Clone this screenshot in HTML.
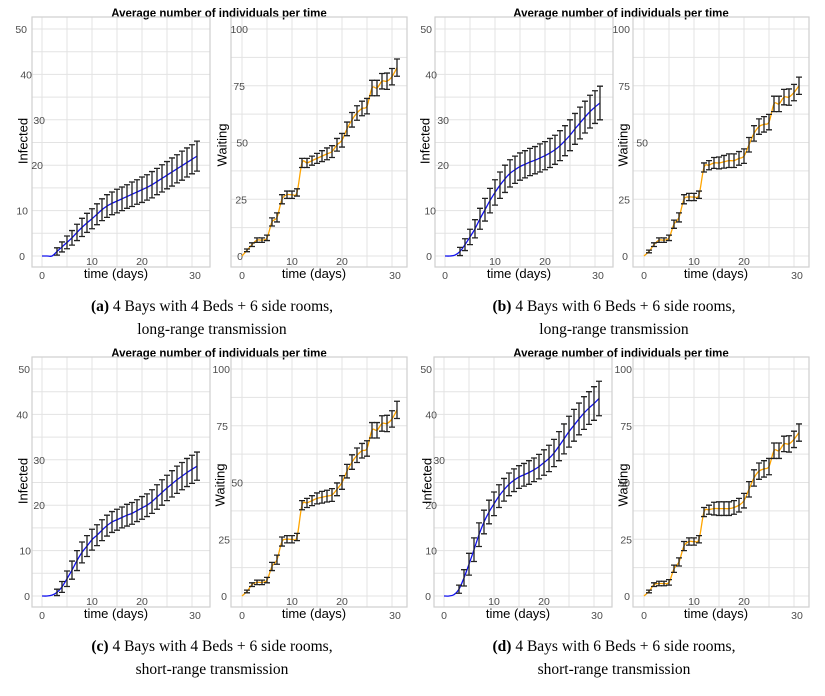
<!DOCTYPE html>
<html><head><meta charset="utf-8">
<style>
html,body{margin:0;padding:0;background:#fff;}
svg{display:block;}
.tick{font-family:"Liberation Sans",sans-serif;font-size:10.5px;fill:#4d4d4d;}
.axt{font-family:"Liberation Sans",sans-serif;font-size:13px;fill:#000;}
.ttl{font-family:"Liberation Sans",sans-serif;font-size:11.5px;font-weight:bold;fill:#000;}
.cap{font-family:"Liberation Serif",serif;font-size:15.5px;fill:#000;}
</style></head>
<body>
<svg id="fig" width="825" height="696" viewBox="0 0 825 696" xmlns="http://www.w3.org/2000/svg"></svg>
<script>
const days = [0,1,2,3,4,5,6,7,8,9,10,11,12,13,14,15,16,17,18,19,20,21,22,23,24,25,26,27,28,29,30,31];
const infTicks = [0,10,20,30,40,50];
const waitTicks = [0,25,50,75,100];
const xTicks = [0,10,20,30];

const infA = [0,0,0,1,2,3,4,5.2,6.3,7.3,8.2,9.2,10.2,11,11.6,12.1,12.6,13.1,13.6,14.1,14.6,15.1,15.7,16.4,17.1,17.8,18.5,19.2,19.9,20.6,21.3,22];
const infAErr = [0,0,0,0.8,1.1,1.4,1.6,1.8,2.0,2.1,2.2,2.3,2.4,2.5,2.5,2.6,2.6,2.6,2.7,2.7,2.8,2.8,2.9,2.9,3.0,3.0,3.1,3.1,3.2,3.2,3.2,3.3];
const waitA = [0,2.5,5,7,7,8,15,17,25,27,27,28,41,41,42,43,44,45,46,49,51,56,60,63,65,66,74,74,77,77,79,83];
const waitAErr = [0,0.6,0.8,1,1,1.2,1.8,2,2,1.6,1.6,1.6,2,2,2,2.2,2.4,2.6,2.6,2.8,3,3,3.2,3.2,3.2,3.4,3.4,3.4,3.4,3.6,3.6,3.8];

const infB = [0,0,0.2,1,2.5,4.2,6,8.2,10.2,12.2,14,15.6,17,18.2,19,19.7,20.2,20.7,21.1,21.6,22.1,22.7,23.4,24.3,25.4,26.6,28,29.3,30.6,31.8,32.8,33.7];
const infBErr = [0,0,0,0.9,1.3,1.7,2.0,2.3,2.5,2.7,2.8,2.9,3.0,3.0,3.0,3.0,3.0,3.0,3.0,3.1,3.1,3.2,3.2,3.3,3.3,3.4,3.4,3.5,3.5,3.6,3.6,3.7];
const waitB = [0,2,5,7,7,8,14,17,25,26,26,27,39,40,41,41,41.5,42,42,43,44,49,54,57,58,59,67,67,70,70,72,75];
const waitBErr = [0,0.6,0.8,1,1,1.2,1.8,2,2,1.6,1.6,1.6,2,2,2.4,2.6,2.8,3,3,3,3.2,3.2,3.4,3.4,3.4,3.4,3.4,3.4,3.4,3.6,3.6,3.8];

const infC = [0,0,0.2,0.8,2,3.8,5.7,7.8,9.6,11,12.4,13.4,14.5,15.5,16.3,16.8,17.3,17.8,18.2,18.8,19.4,20,20.8,21.8,22.8,23.8,24.7,25.6,26.4,27.2,27.9,28.6];
const infCErr = [0,0,0,0.7,1.2,1.7,2.0,2.2,2.3,2.3,2.3,2.3,2.3,2.3,2.3,2.3,2.3,2.4,2.4,2.4,2.5,2.5,2.6,2.7,2.8,2.8,2.9,3.0,3.0,3.1,3.1,3.1];
const waitC = [0,2,5,6,6,7,13,16,24,25,25,26,40,41,42,43,43.5,44,44.5,47,50,55,59,62,64,65,73,73,76,76,78,82];
const waitCErr = [0,0.6,0.8,1,1,1.2,1.8,2,2,1.6,1.6,1.6,2,2,2.2,2.4,2.6,2.6,2.8,2.8,3,3,3.2,3.2,3.2,3.4,3.4,3.4,3.4,3.6,3.6,3.8];

const infD = [0,0,0.3,1.5,4,7,10.2,13.5,16.3,18.5,20.3,22,23.4,24.6,25.5,26.2,26.7,27.2,27.8,28.5,29.4,30.3,31.5,33,34.6,36.2,37.6,39,40.3,41.4,42.4,43.5];
const infDErr = [0,0,0,0.9,1.8,2.4,2.6,2.6,2.6,2.6,2.6,2.5,2.5,2.5,2.5,2.5,2.5,2.6,2.6,2.7,2.8,2.9,3.0,3.2,3.3,3.4,3.5,3.5,3.6,3.6,3.7,3.8];
const waitD = [0,2,5,5.5,5.5,6,12,15,22,24,24,25,37,38,38.5,38.5,38.5,38.5,39,40,42,47,52,55,56,57,64,64,67,67,69,72];
const waitDErr = [0,0.6,0.8,1,1,1.2,1.6,1.8,2,1.6,1.6,1.6,2,2,2.8,3,3,3,3,3,3.2,3.4,3.6,3.6,3.6,3.6,3.4,3.4,3.4,3.6,3.6,3.8];

const captions = [
  ["(a)", "4 Bays with 4 Beds + 6 side rooms,", "long-range transmission"],
  ["(b)", "4 Bays with 6 Beds + 6 side rooms,", "long-range transmission"],
  ["(c)", "4 Bays with 4 Beds + 6 side rooms,", "short-range transmission"],
  ["(d)", "4 Bays with 6 Beds + 6 side rooms,", "short-range transmission"]
];

const NS = "http://www.w3.org/2000/svg";
const svg = document.getElementById('fig');
function mk(tag, attrs, parent, text){
  const e = document.createElementNS(NS, tag);
  for (const k in attrs) e.setAttribute(k, attrs[k]);
  if (text !== undefined) e.textContent = text;
  parent.appendChild(e);
  return e;
}
function smoothPath(pts){
  let d = "M" + pts[0][0].toFixed(2) + "," + pts[0][1].toFixed(2);
  for (let i = 0; i < pts.length - 1; i++){
    const p0 = pts[Math.max(0,i-1)], p1 = pts[i], p2 = pts[i+1], p3 = pts[Math.min(pts.length-1,i+2)];
    const c1x = p1[0] + (p2[0]-p0[0])/6, c1y = p1[1] + (p2[1]-p0[1])/6;
    const c2x = p2[0] - (p3[0]-p1[0])/6, c2y = p2[1] - (p3[1]-p1[1])/6;
    d += "C" + c1x.toFixed(2)+","+c1y.toFixed(2)+" "+c2x.toFixed(2)+","+c2y.toFixed(2)+" "+p2[0].toFixed(2)+","+p2[1].toFixed(2);
  }
  return d;
}

function panel(g, box, x0, yMax, yTicks, minorStep, vals, errs, color, ytitle, ytitleX, ytitleY, labelOff, name){
  const pg = mk('g', {}, g);
  
  
  const y0 = box.y0, yTop = box.yTop;
  const xs = d => x0 + d * 5;
  const ys = v => y0 - (v / yMax) * (y0 - yTop);
  for (let v = 0; v <= yMax + 1e-9; v += minorStep){
    const l = mk('line', {x1: box.l, x2: box.r, y1: ys(v), y2: ys(v), stroke: '#e3e3e3', 'stroke-width': 1}, pg);
    
    
  }
  for (let d = 0; d <= 30; d += 5){
    const l = mk('line', {x1: xs(d), x2: xs(d), y1: box.t, y2: box.b, stroke: '#e3e3e3', 'stroke-width': 1}, pg);
    
    
  }
  const bx = mk('rect', {x: box.l, y: box.t, width: box.r - box.l, height: box.b - box.t, fill: 'none', stroke: '#cfcfcf', 'stroke-width': 1.2}, pg);
  
  
  yTicks.forEach((v, i) => {
    const t = mk('text', {x: box.l + labelOff[i], y: ys(v) + 4, 'text-anchor': 'end', class: 'tick'}, pg, String(v));
    
    
  });
  xTicks.forEach(v => {
    const yy = (v === 10 || v === 20) ? y0 + 9 : y0 + 23;
    const t = mk('text', {x: xs(v) + (v === 30 ? 3 : 0), y: yy, 'text-anchor': 'middle', class: 'tick'}, pg, String(v));
    
    
  });
  const xt = mk('text', {x: (box.l + box.r) / 2 - 5, y: y0 + 22, 'text-anchor': 'middle', class: 'axt'}, pg, 'time (days)');
  
  
  const yt = mk('text', {x: ytitleX, y: ytitleY, 'text-anchor': 'middle', 'dominant-baseline': 'central', class: 'axt', transform: 'rotate(-90 ' + ytitleX + ' ' + ytitleY + ')'}, pg, ytitle);
  
  
  const pts = days.map((d, i) => [xs(d), ys(vals[i])]);
  const ln = mk('path', {d: smoothPath(pts), fill: 'none', stroke: color, 'stroke-width': 1.3}, pg);
  
  
  days.forEach((d, i) => {
    if (!(errs[i] > 0)) return;
    const x = xs(d), yl = ys(vals[i] - errs[i]), yh = ys(vals[i] + errs[i]);
    const eb = mk('path', {d: 'M' + x + ',' + yl + 'V' + yh + 'M' + (x-3) + ',' + yl + 'H' + (x+3) + 'M' + (x-3) + ',' + yh + 'H' + (x+3), stroke: '#222', 'stroke-width': 1.3, fill: 'none'}, pg);
    
    
  });
}

function subfigure(ox, oy, inf, infErr, wait, waitErr, cap, name, cfg){
  const g = mk('g', {}, svg);
  
  
  const t = mk('text', {x: ox + 219, y: oy + 17, 'text-anchor': 'middle', class: 'ttl'}, g, 'Average number of individuals per time');
  
  
  const lo = cfg.lo, ro = cfg.ro;
  const boxL = {l: ox + lo, r: ox + lo + 178, t: oy + 17, b: oy + 267, y0: oy + 256, yTop: oy + 29};
  panel(g, boxL, ox + lo + 10, 50, infTicks, 5, inf, infErr, '#1010ee', 'Infected', ox + cfg.it, oy + 141, cfg.lOff, 'infected-panel');
  const boxR = {l: ox + ro, r: ox + ro + 176, t: oy + 17, b: oy + 267, y0: oy + 256, yTop: oy + 29};
  panel(g, boxR, ox + ro + 11, 100, waitTicks, 12.5, wait, waitErr, '#ffa500', 'Waiting', ox + cfg.wt, oy + 145, cfg.rOff, 'waiting-panel');
  const c1 = mk('text', {x: ox + 212, y: oy + 311, 'text-anchor': 'middle', class: 'cap'}, g);
  
  
  mk('tspan', {'font-weight': 'bold'}, c1, cap[0] + ' ');
  mk('tspan', {}, c1, cap[1]);
  const c2 = mk('text', {x: ox + 212, y: oy + 334, 'text-anchor': 'middle', class: 'cap'}, g, cap[2]);
  
  
}

subfigure(0, 0, infA, infAErr, waitA, waitAErr, captions[0], 'subfigure-a',
  {lo: 32, ro: 231, it: 23, wt: 222, lOff: [-7,-4,11,13,0,-5], rOff: [12,16,17,14,17]});
subfigure(402, 0, infB, infBErr, waitB, waitBErr, captions[1], 'subfigure-b',
  {lo: 33, ro: 231, it: 23, wt: 221, lOff: [-3,1,14,14,2,-3], rOff: [-5,-3,15,-3,-3]});
subfigure(0, 340, infC, infCErr, waitC, waitCErr, captions[2], 'subfigure-c',
  {lo: 32, ro: 231, it: 23, wt: 220, lOff: [-2,-1,13,13,-4,-2], rOff: [-4,-1,12,-3,-1]});
subfigure(402, 340, infD, infDErr, waitD, waitDErr, captions[3], 'subfigure-d',
  {lo: 32, ro: 231, it: 25, wt: 221, lOff: [-3,3,3,11,3,-2], rOff: [-3,-1,-3,-1,-1]});
</script>
</body></html>
